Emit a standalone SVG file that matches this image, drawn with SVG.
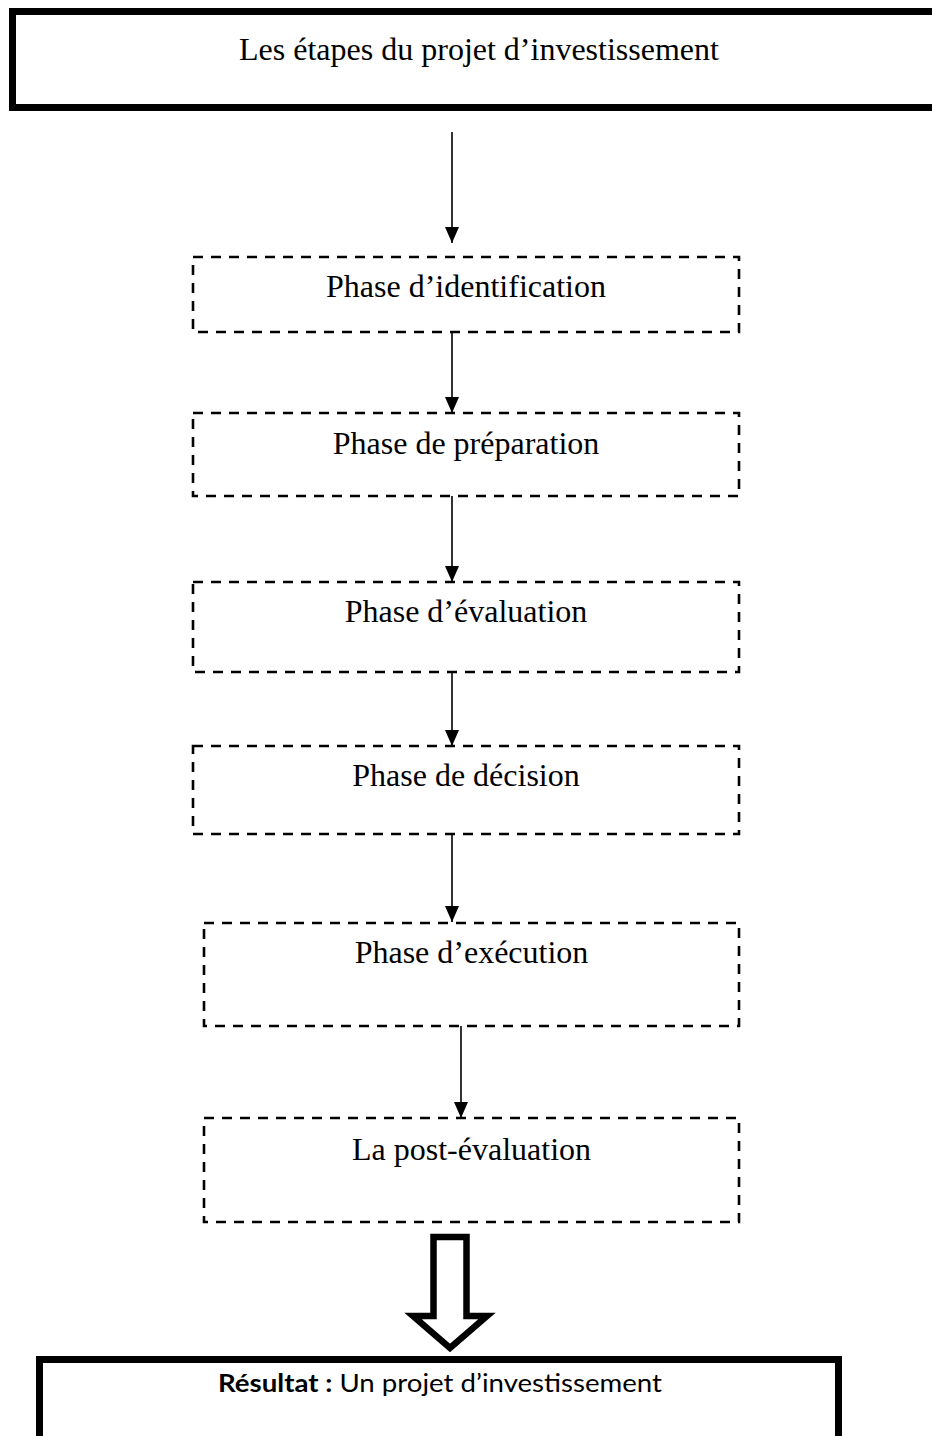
<svg xmlns="http://www.w3.org/2000/svg" width="932" height="1436" viewBox="0 0 932 1436">
  <style>
    .frame { fill: #ffffff; stroke: #000000; stroke-width: 7; }
    .phase { fill: #ffffff; stroke: #000000; stroke-width: 2.6; stroke-dasharray: 10 8; }
    .label { font-family: "Liberation Serif", "Times New Roman", serif; font-size: 32px; fill: #000000; text-anchor: middle; }
    .result { font-family: Lato, "Open Sans", sans-serif; font-size: 25px; fill: #000000; text-anchor: middle; }
    .link { fill: none; stroke: #000000; stroke-width: 1.6; marker-end: url(#head); }
    .block { fill: #ffffff; stroke: #000000; stroke-width: 6.5; stroke-linejoin: miter; }
  </style>
  <defs>
    <marker id="head" markerUnits="userSpaceOnUse" markerWidth="17" markerHeight="15" refX="16" refY="7" orient="auto">
      <path d="M0,0 L16,7 L0,14 Z" fill="#000000"/>
    </marker>
  </defs>

  <rect x="0" y="0" width="932" height="1436" fill="#ffffff"/>

  <!-- title frame -->
  <g id="title">
    <rect class="frame" x="12.5" y="11.5" width="933" height="96"/>
    <text class="label" x="479" y="60">Les étapes du projet d’investissement</text>
  </g>

  <!-- phases -->
  <g id="identification">
    <rect class="phase" x="193" y="257" width="546" height="75"/>
    <text class="label" x="466" y="297">Phase d’identification</text>
  </g>
  <g id="preparation">
    <rect class="phase" x="193" y="413" width="546" height="83"/>
    <text class="label" x="466" y="454">Phase de préparation</text>
  </g>
  <g id="evaluation">
    <rect class="phase" x="193" y="582" width="546" height="90"/>
    <text class="label" x="466" y="622">Phase d’évaluation</text>
  </g>
  <g id="decision">
    <rect class="phase" x="193" y="746" width="546" height="88"/>
    <text class="label" x="466" y="786">Phase de décision</text>
  </g>
  <g id="execution">
    <rect class="phase" x="204" y="923" width="535" height="103"/>
    <text class="label" x="471.5" y="963">Phase d’exécution</text>
  </g>
  <g id="post-evaluation">
    <rect class="phase" x="204" y="1118" width="535" height="104"/>
    <text class="label" x="471.5" y="1160">La post-évaluation</text>
  </g>

  <!-- result frame -->
  <g id="result">
    <rect class="frame" x="39.5" y="1359.5" width="799" height="120"/>
    <text class="result" x="440" y="1392" textLength="444" lengthAdjust="spacingAndGlyphs"><tspan font-weight="bold">Résultat :</tspan> Un projet d’investissement</text>
  </g>

  <!-- connectors -->
  <g id="connectors">
    <line class="link" x1="452" y1="132" x2="452" y2="243"/>
    <line class="link" x1="452" y1="332" x2="452" y2="413"/>
    <line class="link" x1="452" y1="496" x2="452" y2="582"/>
    <line class="link" x1="452" y1="672" x2="452" y2="746"/>
    <line class="link" x1="452" y1="834" x2="452" y2="922"/>
    <line class="link" x1="461" y1="1026" x2="461" y2="1118"/>
    <path class="block" d="M433.5,1237 L466.5,1237 L466.5,1316 L487,1316 L450,1348 L413,1316 L433.5,1316 Z"/>
  </g>
</svg>
